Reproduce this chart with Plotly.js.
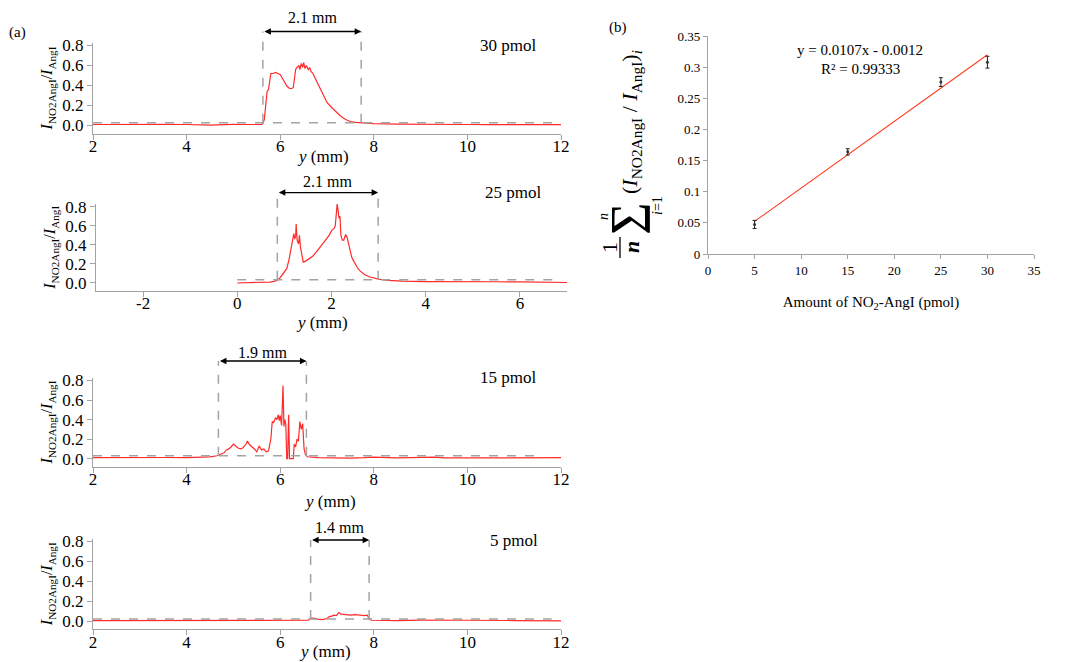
<!DOCTYPE html>
<html><head><meta charset="utf-8">
<script src="https://cdn.plot.ly/plotly-3.0.1.min.js"></script>
<style>html,body{margin:0;padding:0;background:#fff}#chart{width:1084px;height:662px}</style>
</head><body><div id="chart"></div>
<script>
// ---------- Panel (a) profiles ----------
const x30 = [2,2.5,3,3.5,4,4.3,4.5,4.8,5,5.3,5.5,5.6,5.63,5.66,5.68,5.7,5.72,5.75,5.78,5.8,5.85,5.9,5.95,6.0,6.05,6.1,6.15,6.2,6.25,6.28,6.3,6.33,6.36,6.4,6.42,6.45,6.48,6.5,6.53,6.56,6.6,6.63,6.66,6.7,6.75,6.8,6.85,6.9,6.95,7.0,7.1,7.2,7.3,7.4,7.5,7.6,7.7,7.8,8.0,8.5,9,9.5,10,10.5,11,11.5,12];
const y30 = [0.01,0.012,0.014,0.012,0.01,0.005,0.004,0.008,0.012,0.01,0.008,0.01,0.02,0.06,0.15,0.3,0.34,0.36,0.5,0.52,0.52,0.53,0.52,0.51,0.47,0.43,0.39,0.37,0.37,0.38,0.45,0.56,0.58,0.6,0.56,0.62,0.58,0.63,0.57,0.6,0.56,0.58,0.54,0.52,0.47,0.42,0.38,0.32,0.27,0.23,0.18,0.13,0.09,0.06,0.04,0.032,0.027,0.024,0.018,0.013,0.01,0.01,0.01,0.009,0.008,0.008,0.008];

const x25 = [0,0.3,0.5,0.7,0.8,0.85,0.9,0.95,1.0,1.05,1.1,1.15,1.18,1.2,1.22,1.24,1.25,1.27,1.3,1.32,1.34,1.37,1.4,1.45,1.5,1.6,1.7,1.75,1.8,1.85,1.9,1.95,2.0,2.05,2.08,2.1,2.12,2.14,2.16,2.18,2.2,2.23,2.26,2.3,2.33,2.36,2.4,2.43,2.46,2.5,2.55,2.6,2.7,2.8,2.9,3.0,3.2,3.5,4,4.5,5,5.5,6,6.5,7];
const y25 = [0.0,0.001,0.003,0.01,0.02,0.03,0.05,0.08,0.12,0.15,0.25,0.38,0.45,0.52,0.46,0.5,0.62,0.45,0.41,0.5,0.38,0.3,0.22,0.23,0.25,0.28,0.34,0.37,0.41,0.43,0.47,0.5,0.55,0.57,0.6,0.75,0.83,0.76,0.68,0.7,0.5,0.45,0.45,0.51,0.48,0.42,0.31,0.27,0.24,0.2,0.16,0.13,0.09,0.065,0.05,0.04,0.028,0.02,0.015,0.012,0.012,0.013,0.012,0.01,0.005];

const x15 = [2,2.5,3,3.5,4,4.3,4.5,4.65,4.75,4.8,4.85,4.9,4.95,5.0,5.05,5.1,5.15,5.2,5.27,5.3,5.35,5.4,5.45,5.5,5.55,5.6,5.65,5.7,5.75,5.8,5.83,5.86,5.9,5.93,5.96,5.98,6.0,6.03,6.06,6.08,6.1,6.12,6.14,6.16,6.18,6.2,6.28,6.3,6.33,6.36,6.39,6.42,6.45,6.48,6.51,6.54,6.58,6.8,7.2,7.5,7.8,8,8.5,9,9.3,9.5,10,10.5,11,11.5,12];
const y15 = [0.01,0.012,0.014,0.012,0.01,0.012,0.018,0.03,0.05,0.06,0.09,0.1,0.12,0.15,0.13,0.11,0.1,0.11,0.15,0.18,0.14,0.12,0.1,0.07,0.13,0.09,0.1,0.07,0.08,0.2,0.38,0.37,0.42,0.4,0.45,0.39,0.44,0.34,0.75,0.33,0.4,0.35,0.0,0.0,0.45,0.0,0.0,0.15,0.12,0.2,0.18,0.38,0.3,0.36,0.1,0.04,0.02,0.01,0.005,0.006,0.01,0.015,0.008,0.012,0.015,0.008,0.008,0.01,0.01,0.008,0.01];

const x5 = [2,3,4,5,6,6.6,6.65,6.7,6.8,6.9,7.0,7.05,7.1,7.15,7.2,7.25,7.3,7.4,7.5,7.6,7.7,7.8,7.86,7.9,7.95,8.5,9,9.5,9.6,10,11,12];
const y5 = [0.005,0.006,0.005,0.006,0.006,0.008,0.03,0.03,0.02,0.015,0.025,0.045,0.05,0.06,0.055,0.085,0.07,0.065,0.06,0.065,0.06,0.055,0.06,0.02,0.008,0.005,0.01,0.012,0.005,0.008,0.005,0.002];

const amountLabels = ['30 pmol','25 pmol','15 pmol','5 pmol'];
const widthLabels = ['2.1 mm','2.1 mm','1.9 mm','1.4 mm'];
const widthEdges = [[5.63,7.73],[0.85,2.99],[4.68,6.56],[6.65,7.9]];
const thresholds = [0.027,0.035,0.03,0.02];
const thresholdSpan = [[2,11.85],[0,6.85],[2,11.6],[2,11.8]];
const arrowLevel = [0.94,0.95,1.0,0.815];

const yTicksA = [0,0.2,0.4,0.6,0.8];
const yTickTextA = ['0.0','0.2','0.4','0.6','0.8'];
const xTicksA = [2,4,6,8,10,12];
const xTicksA2 = [-2,0,2,4,6];
const xTickTextA2 = ['-2','0','2','4','6'];

// ---------- Panel (b) calibration ----------
const amounts = [5,15,25,30];
const meanRatio = [0.0475,0.164,0.276,0.308];
const ratioErr = [0.0065,0.005,0.007,0.0095];
const trendX = [5,30];
const trendY = [0.0523,0.3198];
const xTicksB = [0,5,10,15,20,25,30,35];
const yTicksB = [0,0.05,0.1,0.15,0.2,0.25,0.3,0.35];
const yTickTextB = ['0','0.05','0.1','0.15','0.2','0.25','0.3','0.35'];

// ---------- layout helpers ----------
const W = 1084, H = 662;
const fx = p => p / W;
const fy = p => 1 - p / H;
const serif = 'Liberation Serif, Times New Roman, serif';
const gray = '#a3a3a3';
const yRangeA = [-0.08, 0.83];
const yd = v => (v - yRangeA[0]) / (yRangeA[1] - yRangeA[0]);

const profX = [x30, x25, x15, x5];
const profY = [y30, y25, y15, y5];
const xDom = [[93,561],[96,567],[93,561],[93,561]];
const yDom = [[42.5,133.5],[204,290.6],[377.6,466.5],[538.5,629]];
const xRanges = [[2,12],[-3,7],[2,12],[2,12]];
const xTitlePos = [[323,156],[322,322],[330,501],[325,651]];
const widthLabelPx = [18,181,352,527];
const pmolPos = [[0.95,0.967],[0.95,1.137],[0.95,1.0],[0.955,0.978]];

const data = [];
const layout = {
  width: W, height: H,
  margin: {l:0, r:0, t:0, b:0},
  paper_bgcolor: '#fff', plot_bgcolor: 'rgba(0,0,0,0)',
  showlegend: false,
  font: {family: serif, color: '#000'},
  shapes: [], annotations: []
};

const A = (x, y, text, size, extra) => Object.assign({xref:'paper', yref:'paper', x: fx(x), y: fy(y),
  text, showarrow: false, font: {family: serif, size, color:'#000'}, xanchor:'center', yanchor:'middle'}, extra || {});

for (let i = 0; i < 4; i++) {
  const n = i + 1;
  const xa = 'x' + (n === 1 ? '' : n), ya = 'y' + (n === 1 ? '' : n);
  const xk = 'xaxis' + (n === 1 ? '' : n), yk = 'yaxis' + (n === 1 ? '' : n);
  data.push({type:'scatter', mode:'lines', x: profX[i], y: profY[i], xaxis: xa, yaxis: ya,
    line: {color:'#ff2a2a', width:1.2}, hoverinfo:'skip'});
  layout[xk] = {
    domain: [fx(xDom[i][0]), fx(xDom[i][1])], range: xRanges[i], anchor: ya,
    showline: true, linecolor: gray, linewidth: 1.2, ticks: 'outside', tickcolor: gray, ticklen: 5,
    ticklabelstandoff: -8,
    tickvals: i === 1 ? xTicksA2 : xTicksA, ticktext: i === 1 ? xTickTextA2 : xTicksA.map(String),
    tickfont: {family: serif, size: 17, color: '#000'},
    showgrid: false, zeroline: false, automargin: false
  };
  layout[yk] = {
    domain: [fy(yDom[i][1]), fy(yDom[i][0])], range: yRangeA, anchor: xa,
    showline: true, linecolor: gray, linewidth: 1.2, ticks: 'outside', tickcolor: gray, ticklen: 5,
    tickvals: yTicksA, ticktext: yTickTextA,
    tickfont: {family: serif, size: 17, color: '#000'},
    showgrid: false, zeroline: false, automargin: false,
    title: {text: '<i>I</i><sub>NO2AngI</sub>/<i>I</i><sub>AngI</sub>', font: {family: serif, size: 16, color:'#000'}, standoff: 5}
  };
  layout.annotations.push(A(xTitlePos[i][0], xTitlePos[i][1], '<i>y</i> (mm)', 17));
  // threshold line
  layout.shapes.push({type:'line', xref: xa, yref: ya, x0: thresholdSpan[i][0], x1: thresholdSpan[i][1],
    y0: thresholds[i], y1: thresholds[i], line: {color: gray, width: 1.5, dash: 'dash'}});
  // width edges (vertical dashed), reaching above the plot area
  widthEdges[i].forEach(e => {
    layout.shapes.push({type:'line', xref: xa, yref: ya + ' domain', x0: e, x1: e,
      y0: yd(thresholds[i]), y1: yd(arrowLevel[i]), line: {color: gray, width: 1.5, dash: 'dash'}});
  });
  // double arrow
  layout.annotations.push({xref: xa, yref: ya + ' domain', x: widthEdges[i][1], y: yd(arrowLevel[i]),
    axref: xa, ax: widthEdges[i][0], ayref: 'pixel', ay: 0, text: '', showarrow: true,
    arrowhead: 2, startarrowhead: 2, arrowside: 'end+start', arrowsize: 1, arrowwidth: 1.3, arrowcolor: '#000'});
  layout.annotations.push({xref: xa, yref: 'paper', x: (widthEdges[i][0] + widthEdges[i][1]) / 2, y: fy(widthLabelPx[i]),
    text: widthLabels[i], showarrow: false, xanchor: 'center', yanchor: 'middle',
    font: {family: serif, size: 16, color: '#000'}});
  layout.annotations.push({xref: xa + ' domain', yref: ya + ' domain', x: pmolPos[i][0], y: pmolPos[i][1],
    xanchor: 'right', yanchor: 'middle', text: amountLabels[i], showarrow: false,
    font: {family: serif, size: 17, color: '#000'}});
}

// panel b traces
data.push({type:'scatter', mode:'lines', x: trendX, y: trendY, xaxis:'x5', yaxis:'y5',
  line: {color:'#ff3b1f', width:1.1}, hoverinfo:'skip'});
data.push({type:'scatter', mode:'markers', x: amounts, y: meanRatio, xaxis:'x5', yaxis:'y5',
  marker: {size: 3, color: '#333'},
  error_y: {type:'data', array: ratioErr, visible: true, color: '#222', thickness: 1, width: 2}, hoverinfo:'skip'});

layout.xaxis5 = {
  domain: [fx(708), fx(1034)], range: [0, 35], anchor: 'y5',
  showline: true, linecolor: gray, linewidth: 1.2, ticks: 'outside', tickcolor: gray, ticklen: 4,
  tickvals: xTicksB, ticktext: xTicksB.map(String), tickfont: {family: serif, size: 13, color:'#000'},
  showgrid: false, zeroline: false, automargin: false,
  title: {text: 'Amount of NO<sub>2</sub>-AngI (pmol)', font: {family: serif, size: 15, color:'#000'}, standoff: 19}
};
layout.yaxis5 = {
  domain: [fy(254), fy(36)], range: [0, 0.35], anchor: 'x5',
  showline: true, linecolor: gray, linewidth: 1.2, ticks: 'outside', tickcolor: gray, ticklen: 4,
  tickvals: yTicksB, ticktext: yTickTextB, tickfont: {family: serif, size: 13, color:'#000'},
  showgrid: false, zeroline: false, automargin: false
};

layout.annotations.push(A(17, 33, '(a)', 15));
layout.annotations.push(A(618, 27, '(b)', 15));
layout.annotations.push(A(860, 50, 'y = 0.0107x - 0.0012', 15));
layout.annotations.push(A(860, 69, 'R² = 0.99333', 15));
// y title of panel b: (1/n) Σ_{i=1}^{n} (I_NO2AngI / I_AngI)_i
layout.annotations.push(A(609, 248, '1', 22, {textangle: -90}));
layout.annotations.push(A(632, 247, '<i><b>n</b></i>', 22, {textangle: -90}));
layout.shapes.push({type:'line', xref:'paper', yref:'paper', x0: fx(620), x1: fx(620), y0: fy(237), y1: fy(258),
  line: {color:'#000', width: 1.3}});
layout.annotations.push(A(631, 219, 'Σ', 56, {textangle: -90}));
layout.annotations.push(A(603, 217, '<i>n</i>', 14, {textangle: -90}));
layout.annotations.push(A(658, 206, '<i>i</i>=1', 14, {textangle: -90}));
layout.annotations.push(A(631, 122, '(<i>I</i><sub>NO2AngI</sub> / <i>I</i><sub>AngI</sub>)<sub><i>i</i></sub>', 22, {textangle: -90}));

Plotly.newPlot('chart', data, layout, {staticPlot: true, displayModeBar: false});
</script>
</body></html>
